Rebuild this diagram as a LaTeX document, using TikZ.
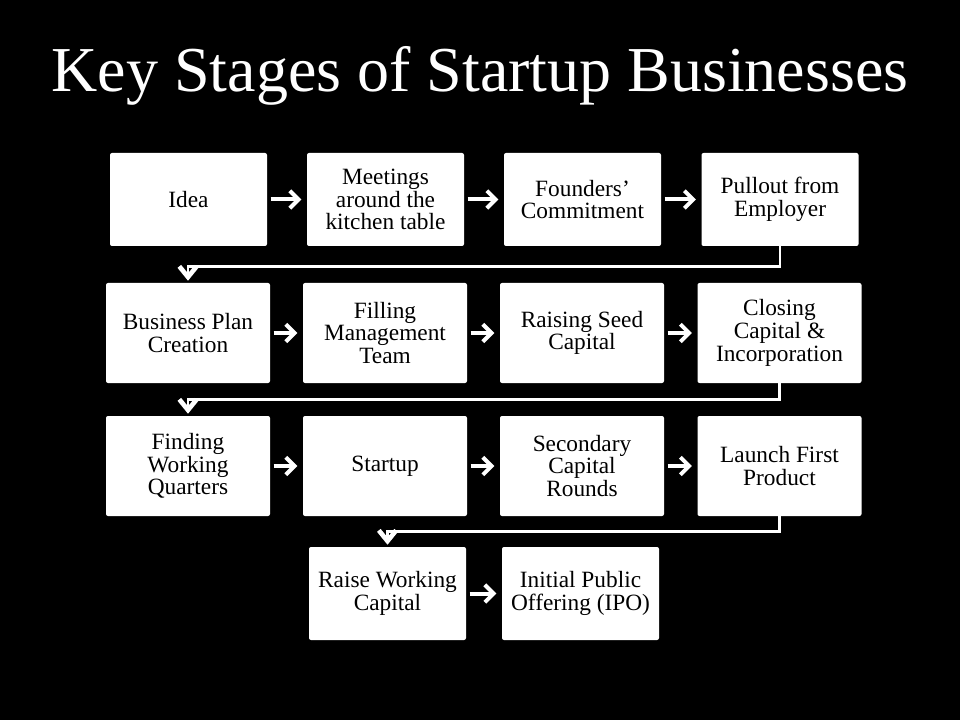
\documentclass[tikz,border=0pt]{standalone}
\usepackage{fontspec}
\setmainfont{Liberation Serif}
\usepackage{xcolor}
\definecolor{slidebg}{RGB}{0, 0, 0}
\definecolor{boxfill}{RGB}{255, 255, 255}
\usepackage{tikz}
\usetikzlibrary{arrows.meta, positioning, calc}

\begin{document}
\begin{tikzpicture}[x=0.75pt, y=-0.75pt,
    stage/.style={fill=boxfill, rounded corners=1.5pt, align=center, text=black,
        font=\fontsize{17.5}{17}\selectfont, inner sep=2pt},
    narrow/.style={stage, minimum width=117.75pt, minimum height=69.75pt},
    wide/.style={stage, minimum width=123pt, minimum height=75pt},
    flow/.style={-{Straight Barb[length=6.5pt, width=13pt]}, white, line width=3pt,
        shorten <=2.5pt, shorten >=4pt},
    wrap/.style={-{Straight Barb[length=8pt, width=13pt, line width=3.5pt]}, white,
        line width=2.2pt, shorten >=1.5pt}]
    \fill[slidebg] (0,0) rectangle (960,720);
    \useasboundingbox (0,0) rectangle (960,720);

    \node[white, anchor=base, font=\fontsize{48}{52}\selectfont] (title) at (480,92) {Key Stages of Startup Businesses};

    % row 1
    \node[narrow] (idea) at (188.5,199.5) {Idea};
    \node[narrow] (meetings) at (385.5,199.5) {Meetings\\around the\\kitchen table};
    \node[narrow] (founders) at (582.5,199.5) {Founders'\\Commitment};
    \node[narrow] (pullout) at (780,199.5) {Pullout from\\Employer};

    % row 2
    \node[wide] (plan) at (188,333) {Business Plan\\Creation};
    \node[wide] (team) at (385,333) {Filling\\Management\\Team};
    \node[wide] (seed) at (582,333) {Raising Seed\\Capital};
    \node[wide] (closing) at (779.5,333) {Closing\\Capital \&\\Incorporation};

    % row 3
    \node[wide] (quarters) at (188,466) {Finding\\Working\\Quarters};
    \node[wide] (startup) at (385,466) {Startup};
    \node[wide] (secondary) at (582,466) {Secondary\\Capital\\Rounds};
    \node[wide] (launch) at (779.5,466) {Launch First\\Product};

    % row 4
    \node[narrow] (raise) at (387.5,593.5) {Raise Working\\Capital};
    \node[narrow] (ipo) at (580.5,593.5) {Initial Public\\Offering (IPO)};

    \draw[flow] (idea) -- (meetings);
    \draw[flow] (meetings) -- (founders);
    \draw[flow] (founders) -- (pullout);
    \draw[flow] (plan) -- (team);
    \draw[flow] (team) -- (seed);
    \draw[flow] (seed) -- (closing);
    \draw[flow] (quarters) -- (startup);
    \draw[flow] (startup) -- (secondary);
    \draw[flow] (secondary) -- (launch);
    \draw[flow] (raise) -- (ipo);

    \draw[wrap] (pullout.south) -- ++(0,20) -| (plan.north);
    \draw[wrap] (closing.south) -- ++(0,16) -| (quarters.north);
    \draw[wrap] (launch.south) -- ++(0,15) -| (raise.north);
\end{tikzpicture}
\end{document}
